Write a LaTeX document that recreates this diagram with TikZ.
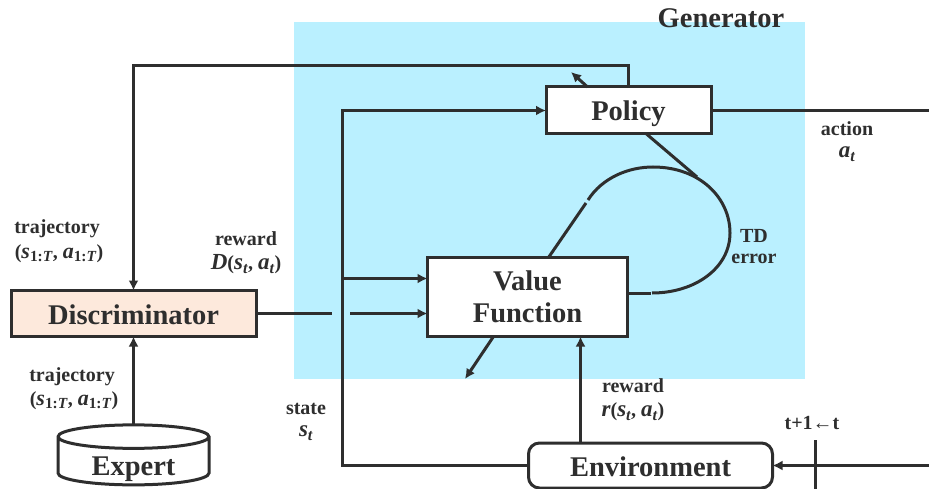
\documentclass[tikz,border=0pt]{standalone}
\usepackage{fontspec}
\setmainfont{Liberation Serif}
\usetikzlibrary{arrows.meta,calc,shapes.geometric}
\definecolor{genblue}{HTML}{BAF0FF}
\definecolor{discpeach}{HTML}{FDE9DC}
\definecolor{inkdark}{HTML}{2E2E2E}
\tikzset{
	boxnode/.style={draw=inkdark, line width=3pt, fill=white, outer sep=0pt, inner sep=0pt, align=center, font=\fontsize{28.5}{32}\selectfont\bfseries, text=inkdark},
	labelnode/.style={inner sep=0pt, align=center, font=\fontsize{20}{27}\selectfont\bfseries, text=inkdark},
	conn/.style={draw=inkdark, line width=3pt},
	arrowconn/.style={conn, -{Latex[length=10pt,width=10pt]}},
}
\newcommand{\mathlbl}[1]{{\itshape\fontsize{23}{27}\selectfont #1}}
\newcommand{\rangelbl}[1]{{\itshape\fontsize{22}{27}\selectfont #1\textsubscript{\upshape 1:\itshape T}}}
\newcommand{\basedrop}[2]{\raisebox{-#1}[10pt][10pt]{#2}}
\begin{document}
\begin{tikzpicture}[x=1pt, y=-1pt]
		%%%%% START %%%%%
		\useasboundingbox (0, 0) rectangle (929, 489);
		
		\fill[genblue] (294, 22) rectangle (805, 379);
		\node[boxnode, draw=none, fill=none] (generator) at (721, 18) {Generator};
		
		\node[boxnode, fill=discpeach, minimum width=245pt, minimum height=46pt] (discriminator) at (133.5, 313.5) {\basedrop{10.5pt}{Discriminator}};
		\node[boxnode, minimum width=165pt, minimum height=47pt] (policy) at (628.5, 110.5) {\basedrop{10pt}{Policy}};
		\node[boxnode, minimum width=200pt, minimum height=79pt] (value) at (527.5, 297) {Value\\Function};
		\node[boxnode, rounded corners=11pt, minimum width=244pt, minimum height=45pt] (environment) at (650.5, 465.5) {\basedrop{10.5pt}{Environment}};
		\node[boxnode, cylinder, shape border rotate=90, aspect=0.28, minimum width=151pt, minimum height=60pt] (expert) at (133.5, 461.5) {\basedrop{14pt}{Expert}};
		
		\coordinate (policyout) at (571, 72);
		\coordinate (valueout) at (465, 379);
		\coordinate (stateturn) at (342.5, 465.5);
		\coordinate (rewardend) at (332, 313.5);
		\coordinate (rewardstart) at (350, 313.5);
		\coordinate (actionend) at (929, 110.5);
		\coordinate (nextstart) at (929, 465.5);
		\coordinate (ticktop) at (815.5, 440);
		\coordinate (tickbottom) at (815.5, 489);
		
		\draw[arrowconn] (policy.north) -- ++(0, -21) -| (discriminator.north);
		\draw[arrowconn] ([xshift=-41pt]policy.north) -- (policyout);
		\draw[arrowconn] (expert.north) -- (discriminator.south);
		
		\draw[conn] (discriminator.east) -- (rewardend);
		\draw[arrowconn] (rewardstart) -- (rewardstart -| value.west);
		
		\draw[arrowconn] (environment.west) -- (stateturn) |- (policy.west);
		\draw[arrowconn] (stateturn |- 0, 278.5) -- (value.west |- 0, 278.5);
		
		\draw[conn] (policy.east) -- (actionend);
		\draw[arrowconn] (nextstart) -- (environment.east);
		\draw[conn] (ticktop) -- (tickbottom);
		\draw[arrowconn] (environment.north -| 580.5, 0) -- (value.south -| 580.5, 0);
		
		\draw[conn] ([xshift=18pt]policy.south) -- (697, 177);
		\draw[conn] ([xshift=21pt]value.north) -- (586, 203);
		\draw[conn] (588, 200) .. controls (602, 178) and (628, 167) .. (653, 167) .. controls (700, 167) and (730, 198) .. (730, 233) .. controls (730, 268) and (695, 293) .. (652, 293);
		\draw[conn] (value.east |- 0, 293) -- (651, 293);
		\draw[arrowconn] ([xshift=-34pt]value.south) -- (valueout);
		
		\node[labelnode] (trajup) at (57, 229) {trajectory};
		\node[labelnode] (trajupmath) at (59, 254) {(\rangelbl{s}, \rangelbl{a})};
		\node[labelnode] (trajdown) at (72, 377) {trajectory};
		\node[labelnode] (trajdownmath) at (74, 401) {(\rangelbl{s}, \rangelbl{a})};
		\node[labelnode] (rewardd) at (246, 239) {reward};
		\node[labelnode] (rewarddmath) at (246, 264) {\mathlbl{D}(\mathlbl{s\textsubscript{t}}, \mathlbl{a\textsubscript{t}})};
		\node[labelnode] (state) at (306, 409) {state};
		\node[labelnode] (statemath) at (306, 433) {\mathlbl{s\textsubscript{t}}};
		\node[labelnode] (rewardr) at (633, 386) {reward};
		\node[labelnode] (rewardrmath) at (633, 412) {\mathlbl{r}(\mathlbl{s\textsubscript{t}}, \mathlbl{a\textsubscript{t}})};
		\node[labelnode] (action) at (847, 129) {action};
		\node[labelnode] (actionmath) at (847, 154) {\mathlbl{a\textsubscript{t}}};
		\node[labelnode] (tderror) at (754, 247) {TD\\[-6pt]error};
		\node[labelnode] (timestep) at (812, 423) {t+1←t};
		
		%%%%% END %%%%%
	\end{tikzpicture}
\end{document}
